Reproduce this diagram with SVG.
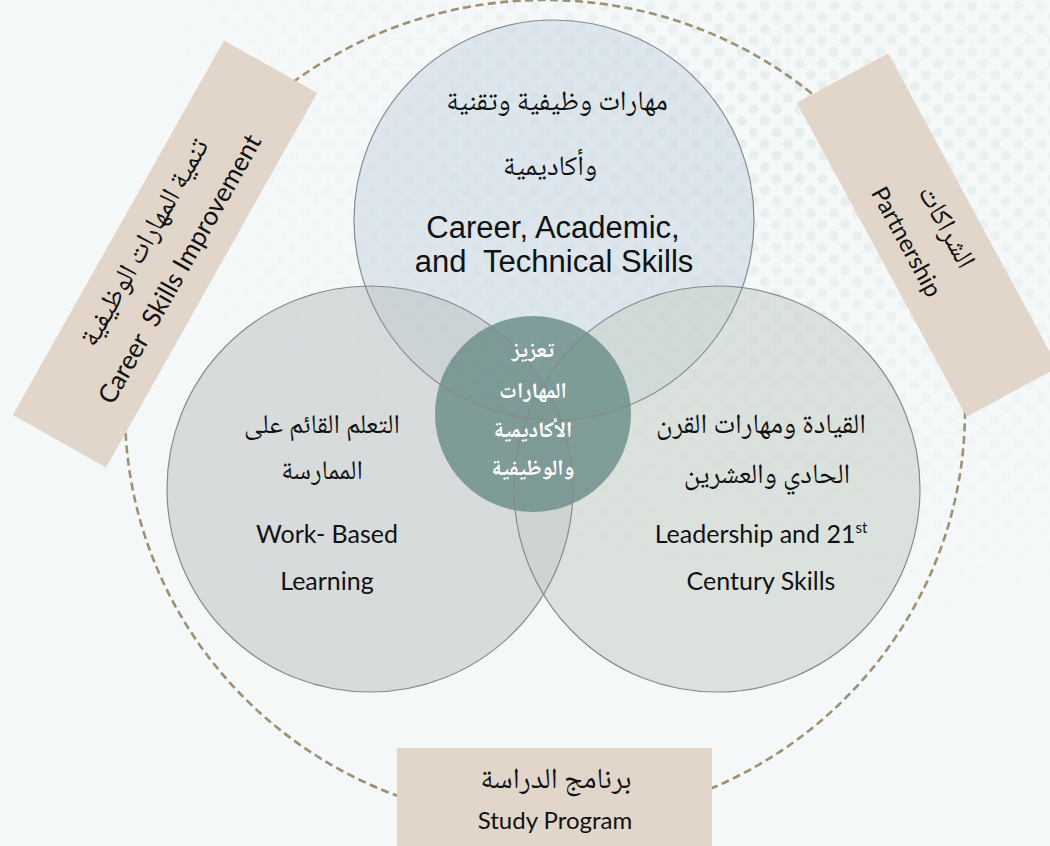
<svg xmlns="http://www.w3.org/2000/svg" width="1050" height="846" viewBox="0 0 1050 846">
<defs>
<style>
.ar{font-family:"Noto Naskh Arabic","Noto Sans Arabic","DejaVu Sans",sans-serif;fill:#111;text-anchor:middle}
.en{font-family:Lato,"Open Sans",sans-serif;fill:#111;text-anchor:middle}
.ena{font-family:"Liberation Sans",Arial,sans-serif;fill:#111;text-anchor:middle}
.box{fill:#e1d6c9}
.ring{fill:none;stroke:#9e9070;stroke-width:2.6;stroke-dasharray:8 4.5}
.edge{fill:none;stroke:#868b8d;stroke-width:1.2}
.wt{font-family:"Noto Naskh Arabic","Noto Sans Arabic","DejaVu Sans",sans-serif;fill:#fff;font-weight:bold;text-anchor:middle}
</style>
<pattern id="dots" width="23" height="23" patternUnits="userSpaceOnUse">
<circle cx="6" cy="6" r="5" fill="#e3ebeb"/>
<circle cx="17.5" cy="17.5" r="5" fill="#e3ebeb"/>
</pattern>
<radialGradient id="fade" cx="0.75" cy="0.15" r="0.6">
<stop offset="0" stop-color="#fff" stop-opacity="1"/>
<stop offset="1" stop-color="#fff" stop-opacity="0"/>
</radialGradient>
<mask id="dotmask"><rect x="0" y="0" width="1050" height="846" fill="url(#fade)"/></mask>
</defs>

<rect width="1050" height="846" fill="#f4f8f9"/>
<rect width="1050" height="846" fill="url(#dots)" mask="url(#dotmask)" opacity="0.8"/>

<g id="connectors">
<ellipse class="ring" cx="545" cy="411" rx="420" ry="411"/>
</g>

<g id="circle-top">
<circle cx="554" cy="220" r="200" fill="#c8d7e1" fill-opacity="0.55"/>
</g>
<g id="circle-left">
<circle cx="370" cy="489" r="203" fill="#bfc3c4" fill-opacity="0.55"/>
</g>
<g id="circle-right">
<circle cx="717" cy="489" r="203" fill="#c7d0c6" fill-opacity="0.55"/>
</g>
<g id="center">
<circle cx="533" cy="414" r="98" fill="#6f8f8c" fill-opacity="0.85"/>
</g>
<g id="outlines">
<circle class="edge" cx="554" cy="220" r="200"/>
<circle class="edge" cx="370" cy="489" r="203"/>
<circle class="edge" cx="717" cy="489" r="203"/>
</g>

<g id="top-text">
<text class="ar" x="557" y="110" font-size="28">مهارات وظيفية وتقنية</text>
<text class="ar" x="550" y="175" font-size="28">وأكاديمية</text>
<text class="ena" x="553" y="238" font-size="31">Career, Academic,</text>
<text class="ena" x="554" y="272" font-size="31">and&#160; Technical Skills</text>
</g>

<g id="center-text">
<text class="wt" x="533" y="357" font-size="22">تعزيز</text>
<text class="wt" x="533" y="398" font-size="22">المهارات</text>
<text class="wt" x="533" y="437" font-size="22">الأكاديمية</text>
<text class="wt" x="533" y="475" font-size="22">والوظيفية</text>
</g>

<g id="left-text">
<text class="ar" x="322" y="433" font-size="27">التعلم القائم على</text>
<text class="ar" x="322" y="479" font-size="27">الممارسة</text>
<text class="en" x="327" y="543" font-size="25">Work- Based</text>
<text class="en" x="327" y="590" font-size="25">Learning</text>
</g>

<g id="right-text">
<text class="ar" x="761" y="433" font-size="28">القيادة ومهارات القرن</text>
<text class="ar" x="767" y="483" font-size="28">الحادي والعشرين</text>
<text class="en" x="761" y="543" font-size="25">Leadership and 21<tspan dy="-10" font-size="15">st</tspan></text>
<text class="en" x="761" y="590" font-size="25">Century Skills</text>
</g>

<g id="box-career" transform="translate(165,254) rotate(-60.6)">
<rect class="box" x="-215" y="-53.5" width="430" height="107"/>
<text class="ar" x="0" y="-15" font-size="28">تنمية المهارات الوظيفية</text>
<text class="en" x="-6" y="29" font-size="26">Career&#160; Skills Improvement</text>
</g>

<g id="box-partnership" transform="translate(927.5,235) rotate(61.6)">
<rect class="box" x="-178.5" y="-52" width="357" height="104"/>
<text class="ar" x="2" y="-12" font-size="28">الشراكات</text>
<text class="en" x="-4" y="30" font-size="24">Partnership</text>
</g>

<g id="box-study">
<rect class="box" x="397" y="748" width="315" height="100"/>
<text class="ar" x="556" y="788" font-size="29">برنامج الدراسة</text>
<text class="en" x="555" y="829" font-size="24">Study Program</text>
</g>
</svg>
